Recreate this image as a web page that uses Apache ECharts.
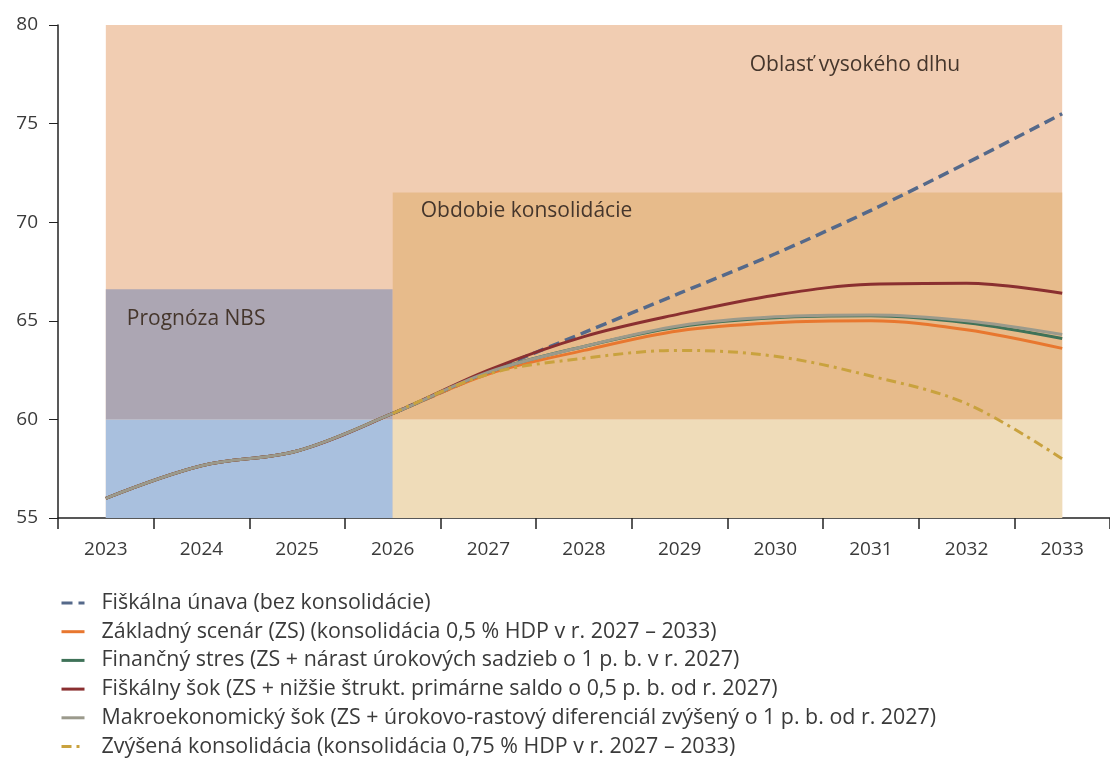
<!DOCTYPE html>
<html>
<head>
<meta charset="utf-8">
<script src="https://cdn.jsdelivr.net/npm/echarts@6/dist/echarts.min.js"></script>
<style>
  html, body { margin: 0; padding: 0; background: #fff; }
</style>
</head>
<body>
<div id="chart" style="width:1110px;height:760px;"></div>
<script>
  // roky na osi x
  var years = ['2023', '2024', '2025', '2026', '2027', '2028', '2029', '2030', '2031', '2032', '2033']

  // scenáre (hrubý dlh v % HDP), odčítané z grafu
  var fiskalnaUnava = [null, null, null, 60.3, 62.4, 64.4, 66.4, 68.4, 70.6, 73.0, 75.5]
  var zakladnyScenar = [56.0, 57.65, 58.4, 60.3, 62.3, 63.5, 64.5, 64.9, 65.0, 64.55, 63.6]
  var financnyStres = [56.0, 57.65, 58.4, 60.3, 62.4, 63.7, 64.7, 65.15, 65.25, 64.9, 64.1]
  var fiskalnySok = [56.0, 57.65, 58.4, 60.3, 62.5, 64.2, 65.35, 66.3, 66.85, 66.9, 66.4]
  var makroSok = [56.0, 57.65, 58.4, 60.3, 62.4, 63.7, 64.75, 65.2, 65.3, 65.0, 64.3]
  var zvysenaKonsolidacia = [null, null, null, 60.3, 62.3, 63.1, 63.5, 63.2, 62.2, 60.8, 58.0]

  var seriesNames = [
    'Fiškálna únava (bez konsolidácie)',
    'Základný scenár (ZS) (konsolidácia 0,5 % HDP v r. 2027 – 2033)',
    'Finančný stres (ZS + nárast úrokových sadzieb o 1 p. b. v r. 2027)',
    'Fiškálny šok (ZS + nižšie štrukt. primárne saldo o 0,5 p. b. od r. 2027)',
    'Makroekonomický šok (ZS + úrokovo-rastový diferenciál zvýšený o 1 p. b. od r. 2027)',
    'Zvýšená konsolidácia (konsolidácia 0,75 % HDP v r. 2027 – 2033)'
  ]

  // hranice oblastí v pozadí
  var yMin = 55, yMax = 80
  var dlhovaBrzda = 60
  var prognozaTop = 66.6
  var konsolidaciaTop = 71.5

  var font = '"Open Sans", sans-serif'
  var textColor = '#3a3a3a'

  var myChart = echarts.init(document.getElementById('chart'))

  var areaLabel = function (pos, offset) {
    return {
      show: true,
      position: pos,
      distance: 0,
      offset: offset,
      color: '#45362c',
      fontFamily: font,
      fontSize: 21
    }
  }

  var option = {
    backgroundColor: '#ffffff',
    animation: false,
    grid: {
      left: 58,
      top: 25,
      right: -7,
      height: 493
    },
    legend: {
      orient: 'vertical',
      left: 60,
      top: 592,
      padding: 0,
      itemWidth: 23,
      itemHeight: 14,
      itemGap: 6.7,
      data: seriesNames,
      itemStyle: { opacity: 0 },
      lineStyle: { width: 3 },
      textStyle: {
        color: textColor,
        fontFamily: font,
        fontSize: 21.4,
        lineHeight: 22,
        padding: [0, 0, 0, 12]
      }
    },
    xAxis: {
      type: 'category',
      data: years,
      boundaryGap: true,
      axisLine: { lineStyle: { color: '#222', width: 1.5 } },
      axisTick: { show: true, length: 11, lineStyle: { color: '#222', width: 1.5 } },
      axisLabel: { color: textColor, fontFamily: font, fontSize: 19, margin: 22 },
      splitLine: { show: false }
    },
    yAxis: {
      type: 'value',
      min: yMin,
      max: yMax,
      interval: 5,
      axisLine: { show: true, lineStyle: { color: '#222', width: 1.5 } },
      axisTick: { show: true, length: 9, lineStyle: { color: '#222', width: 1 } },
      axisLabel: { color: textColor, fontFamily: font, fontSize: 19, margin: 20 },
      splitLine: { show: false }
    },
    series: [
      {
        // len podklad s oblasťami
        type: 'line',
        name: 'oblasti',
        data: [],
        z: 1,
        silent: true,
        markArea: {
          silent: true,
          data: [
            [
              { xAxis: '2023', yAxis: yMin, itemStyle: { color: '#f1cdb2', opacity: 1 },
                label: areaLabel('insideTopRight', [-102, 30]),
                name: 'Oblasť vysokého dlhu' },
              { xAxis: '2033', yAxis: yMax }
            ],
            [
              { xAxis: '2023', yAxis: dlhovaBrzda, itemStyle: { color: '#aca6b3', opacity: 1 },
                label: areaLabel('insideTopLeft', [21, 19]),
                name: 'Prognóza NBS' },
              { xAxis: '2026', yAxis: prognozaTop }
            ],
            [
              { xAxis: '2023', yAxis: yMin, itemStyle: { color: '#a9c0de', opacity: 1 },
                label: { show: false } },
              { xAxis: '2026', yAxis: dlhovaBrzda }
            ],
            [
              { xAxis: '2026', yAxis: dlhovaBrzda, itemStyle: { color: '#e7bb8b', opacity: 1 },
                label: areaLabel('insideTopLeft', [28, 8]),
                name: 'Obdobie konsolidácie' },
              { xAxis: '2033', yAxis: konsolidaciaTop }
            ],
            [
              { xAxis: '2026', yAxis: yMin, itemStyle: { color: '#efdcb9', opacity: 1 },
                label: { show: false } },
              { xAxis: '2033', yAxis: dlhovaBrzda }
            ]
          ]
        }
      },
      {
        name: seriesNames[0],
        type: 'line',
        data: fiskalnaUnava,
        symbol: 'none',
        smooth: 0.3,
        z: 3,
        lineStyle: { color: '#55698a', width: 3.5, type: [11, 6] }
      },
      {
        name: seriesNames[1],
        type: 'line',
        data: zakladnyScenar,
        symbol: 'none',
        smooth: 0.35,
        z: 3,
        lineStyle: { color: '#e8772f', width: 3 }
      },
      {
        name: seriesNames[2],
        type: 'line',
        data: financnyStres,
        symbol: 'none',
        smooth: 0.35,
        z: 3,
        lineStyle: { color: '#3f7258', width: 3 }
      },
      {
        name: seriesNames[3],
        type: 'line',
        data: fiskalnySok,
        symbol: 'none',
        smooth: 0.35,
        z: 3,
        lineStyle: { color: '#8a2f30', width: 3 }
      },
      {
        name: seriesNames[4],
        type: 'line',
        data: makroSok,
        symbol: 'none',
        smooth: 0.35,
        z: 3,
        lineStyle: { color: '#9b9a8c', width: 3 }
      },
      {
        name: seriesNames[5],
        type: 'line',
        data: zvysenaKonsolidacia,
        symbol: 'none',
        smooth: 0.35,
        z: 3,
        lineStyle: { color: '#c9a23e', width: 3, type: [10, 5, 3, 5] }
      }
    ]
  }

  myChart.setOption(option)
</script>
</body>
</html>
